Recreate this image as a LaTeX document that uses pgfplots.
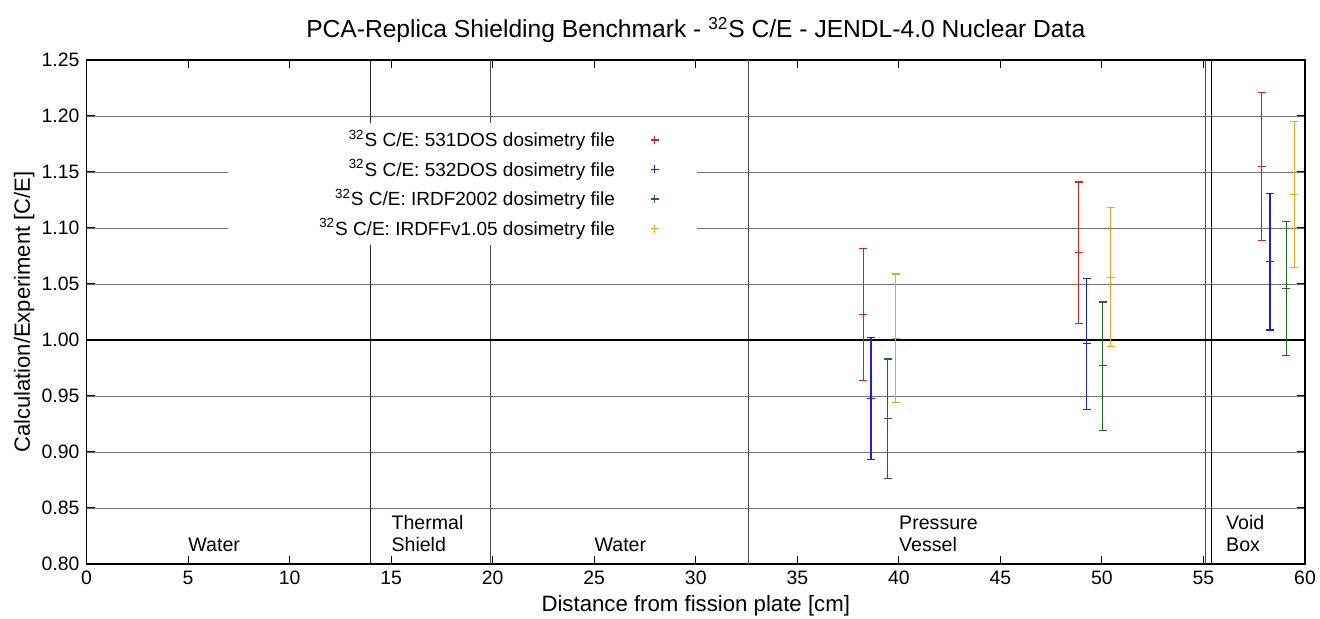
\documentclass[border=0pt]{standalone}
\usepackage{pgfplots}
\pgfplotsset{compat=1.18}
\usepackage{fontspec}
\setmainfont{Liberation Sans}
\definecolor{cred}{RGB}{225,30,30}
\definecolor{cblue}{RGB}{30,30,225}
\definecolor{cgreen}{RGB}{30,110,30}
\definecolor{corange}{RGB}{245,160,30}

\pgfplotstableread{
x y ep em
38.24 1.023 0.059 0.059
48.86 1.078 0.063 0.063
57.87 1.155 0.066 0.066
}\dosA
\pgfplotstableread{
x y ep em
38.63 0.948 0.054 0.055
49.25 0.997 0.058 0.059
58.27 1.070 0.061 0.061
}\dosB
\pgfplotstableread{
x y ep em
39.45 0.930 0.053 0.054
50.04 0.977 0.057 0.058
59.07 1.046 0.060 0.060
}\irdf
\pgfplotstableread{
x y ep em
39.84 1.001 0.058 0.057
50.43 1.056 0.062 0.062
59.48 1.130 0.065 0.065
}\irdff

\begin{document}
\begin{tikzpicture}
\begin{axis}[
  name=ax,
  scale only axis,
  width=609.25pt, height=252pt,
  xmin=0, xmax=60, ymin=0.8, ymax=1.25,
  xtick={0,5,10,15,20,25,30,35,40,45,50,55,60},
  ytick={0.80,0.85,0.90,0.95,1.00,1.05,1.10,1.15,1.20,1.25},
  yticklabel style={/pgf/number format/.cd,fixed,fixed zerofill,precision=2},
  /pgf/number format/assume math mode=true,
  tick label style={font=\fontsize{9.7}{11}\selectfont},
  tick align=inside, major tick length=4pt,
  tick style={black, line width=0.5pt},
  ymajorgrids,
  grid style={black!55, line width=0.45pt},
  axis line style={line width=0.8pt},
  legend plot pos=right,
  legend cell align=right,
  legend style={at={(axis cs:28.5,1.195)}, anchor=north east, draw=none, fill=none,
    font=\fontsize{9.5}{11}\selectfont, row sep=0.8pt,
    /tikz/every odd column/.append style={column sep=16pt}},
  legend image code/.code={\draw[mark=+, mark size=2pt, line width=0.6pt, #1] plot coordinates {(0.2cm,0cm)};},
]
% region boundaries
\draw[black!85, line width=0.6pt] (axis cs:14.0,0.8) -- (axis cs:14.0,1.25);
\draw[black!70, line width=0.6pt] (axis cs:19.9,0.8) -- (axis cs:19.9,1.25);
\draw[black!70, line width=0.6pt] (axis cs:32.6,0.8) -- (axis cs:32.6,1.25);
\draw[black!70, line width=0.5pt] (axis cs:55.08,0.8) -- (axis cs:55.08,1.25);
\draw[black, line width=0.6pt] (axis cs:55.4,0.8) -- (axis cs:55.4,1.25);
\draw[black, line width=1pt] (axis cs:0,1) -- (axis cs:60,1);
% legend background
\fill[white] (axis cs:6.97,1.0848) rectangle (axis cs:30.07,1.1938);
% region labels
\begin{scope}[every node/.style={anchor=base west, inner sep=0pt, font=\fontsize{9.8}{11}\selectfont}]
\node at (axis cs:5,0.8116) {Water};
\node at (axis cs:15,0.831) {Thermal};
\node at (axis cs:15,0.8116) {Shield};
\node at (axis cs:25,0.8116) {Water};
\node at (axis cs:40,0.831) {Pressure};
\node at (axis cs:40,0.8116) {Vessel};
\node at (axis cs:56.1,0.831) {Void};
\node at (axis cs:56.1,0.8116) {Box};
\end{scope}

\addplot[only marks, mark=+, mark size=2pt, color=cred, line width=0.6pt,
  error bars/.cd, y dir=both, y explicit,
  error bar style={line width=0.6pt},
  error mark options={rotate=90, mark size=2pt, line width=0.6pt}]
  table[x=x, y=y, y error plus=ep, y error minus=em] {\dosA};
\addlegendentry{\textsuperscript{32}S C/E: 531DOS dosimetry file}
\addplot[only marks, mark=+, mark size=2pt, color=cblue, line width=0.6pt,
  error bars/.cd, y dir=both, y explicit,
  error bar style={line width=0.65pt},
  error mark options={rotate=90, mark size=2pt, line width=0.65pt}]
  table[x=x, y=y, y error plus=ep, y error minus=em] {\dosB};
\addlegendentry{\textsuperscript{32}S C/E: 532DOS dosimetry file}
\addplot[only marks, mark=+, mark size=2pt, color=cgreen, line width=0.6pt,
  error bars/.cd, y dir=both, y explicit,
  error bar style={line width=0.6pt},
  error mark options={rotate=90, mark size=2pt, line width=0.6pt}]
  table[x=x, y=y, y error plus=ep, y error minus=em] {\irdf};
\addlegendentry{\textsuperscript{32}S C/E: IRDF2002 dosimetry file}
\addplot[only marks, mark=+, mark size=2pt, color=corange, line width=0.6pt,
  error bars/.cd, y dir=both, y explicit,
  error bar style={line width=0.6pt},
  error mark options={rotate=90, mark size=2pt, line width=0.6pt}]
  table[x=x, y=y, y error plus=ep, y error minus=em] {\irdff};
\addlegendentry{\textsuperscript{32}S C/E: IRDFFv1.05 dosimetry file}
\end{axis}
\node[anchor=base, font=\fontsize{12.3}{14}\selectfont] at ([yshift=11pt]ax.north) {PCA-Replica Shielding Benchmark - \textsuperscript{32}S C/E - JENDL-4.0 Nuclear Data};
\node[anchor=base, font=\fontsize{11.1}{13}\selectfont] at ([yshift=-24pt]ax.south) {Distance from fission plate [cm]};
\node[anchor=base, rotate=90, font=\fontsize{11}{13}\selectfont] at ([xshift=-28.25pt]ax.west) {Calculation/Experiment [C/E]};
\pgfresetboundingbox
\useasboundingbox ([shift={(-43.25pt,-27.5pt)}]ax.south west) rectangle ([shift={(7.5pt,30pt)}]ax.north east);
\end{tikzpicture}
\end{document}
